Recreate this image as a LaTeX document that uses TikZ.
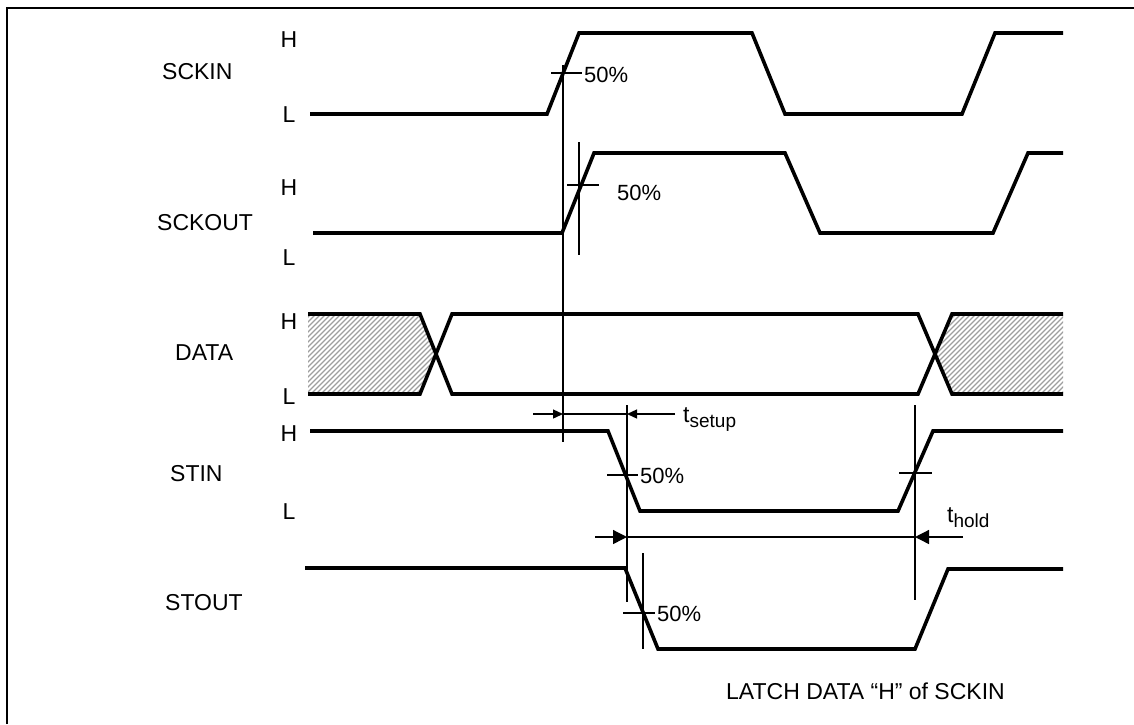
\documentclass[tikz,border=0pt]{standalone}
\usepackage{fontspec}
\setmainfont{Liberation Sans}
\usetikzlibrary{arrows.meta}
\tikzset{
  wave/.style={line width=3.6pt},
  thin/.style={line width=1.3pt},
  lbl/.style={inner sep=0pt, font=\fontsize{23}{27}\selectfont},
  pct/.style={inner sep=0pt, anchor=west, font=\fontsize{22}{26}\selectfont},
  hatchline/.style={line width=1.2pt, draw=black!38},
  smallarr/.style={-{Triangle[length=10pt,width=9pt]}},
  bigarr/.style={-{Triangle[length=14pt,width=14pt]}}
}
\newcommand{\subtxt}[1]{\raisebox{-5pt}{\fontsize{19}{19}\selectfont #1}}
\begin{document}
\begin{tikzpicture}[x=1pt,y=-1pt]
\useasboundingbox (0,0) rectangle (1134,724);
% frame
\draw[line width=2pt] (7,724) -- (7,8) -- (1134,8);

% hatched regions
\begin{scope}
\clip (308,314) -- (420,314) -- (436,354) -- (420,394) -- (308,394) -- cycle;
\foreach \x in {220,225,...,440} {\draw[hatchline] (\x,400) -- (\x+90,310);}
\end{scope}
\begin{scope}
\clip (1063,314) -- (952,314) -- (935,354) -- (952,394) -- (1063,394) -- cycle;
\foreach \x in {840,845,...,1070} {\draw[hatchline] (\x,400) -- (\x+90,310);}
\end{scope}

% signal names
\node[lbl, anchor=west] (nsckin) at (162,72) {SCKIN};
\node[lbl, anchor=west] (nsckout) at (157,223) {SCKOUT};
\node[lbl, anchor=west] (ndata) at (175,353) {DATA};
\node[lbl, anchor=west] (nstin) at (170,474) {STIN};
\node[lbl, anchor=west] (nstout) at (165,603) {STOUT};

% H / L labels
\node[lbl] (h1) at (289,40) {H};
\node[lbl] (l1) at (289,115) {L};
\node[lbl] (h2) at (289,188) {H};
\node[lbl] (l2) at (289,258) {L};
\node[lbl] (h3) at (289,322) {H};
\node[lbl] (l3) at (289,397) {L};
\node[lbl] (h4) at (289,434) {H};
\node[lbl] (l4) at (289,512) {L};

% waveforms
\draw[wave] (310,114) -- (547,114) -- (579,33) -- (752,33) -- (785,114) -- (962,114) -- (995,33) -- (1063,33);
\draw[wave] (313,233) -- (562,233) -- (594,153) -- (785,153) -- (820,233) -- (993,233) -- (1028,153) -- (1063,153);
\draw[wave] (308,314) -- (420,314) -- (452,394) -- (918,394) -- (952,314) -- (1063,314);
\draw[wave] (308,394) -- (420,394) -- (452,314) -- (918,314) -- (952,394) -- (1063,394);
\draw[wave] (310,431) -- (608,431) -- (640,511) -- (898,511) -- (933,431) -- (1063,431);
\draw[wave] (305,568) -- (625,568) -- (658,649) -- (915,649) -- (948,569) -- (1063,569);

% reference verticals
\draw[thin] (563,65) -- (563,442);
\draw[thin] (579,142) -- (579,255);
\draw[thin] (627,405) -- (627,602);
\draw[thin] (915,405) -- (915,600);
\draw[thin] (643,553) -- (643,649);

% 50% ticks
\draw[thin] (551,73) -- (582,73);
\draw[thin] (567,185) -- (599,185);
\draw[thin] (607,475) -- (638,475);
\draw[thin] (899,473) -- (932,473);
\draw[thin] (623,613) -- (655,613);

\node[pct] (p1) at (584,75) {50\%};
\node[pct] (p2) at (617,193) {50\%};
\node[pct] (p3) at (640,476) {50\%};
\node[pct] (p4) at (657,614) {50\%};

% t_setup
\coordinate (s0) at (533,414);
\coordinate (s1) at (563,414);
\coordinate (s2) at (627,414);
\coordinate (s3) at (675,414);
\draw[thin] (s1) -- (s2);
\draw[thin, smallarr] (s0) -- (s1);
\draw[thin, smallarr] (s3) -- (s2);
\node[lbl, anchor=base west] (tsetup) at (683,422) {t\subtxt{setup}};

% t_hold
\coordinate (h0) at (595,537);
\coordinate (hh1) at (627,537);
\coordinate (hh2) at (915,537);
\coordinate (hh3) at (963,537);
\draw[thin] (hh1) -- (hh2);
\draw[thin, bigarr] (h0) -- (hh1);
\draw[thin, bigarr] (hh3) -- (hh2);
\node[lbl, anchor=base west] (thold) at (947,522) {t\subtxt{hold}};

% caption
\node[lbl, anchor=west] (cap) at (726,691) {LATCH DATA “H” of SCKIN};
\end{tikzpicture}
\end{document}
